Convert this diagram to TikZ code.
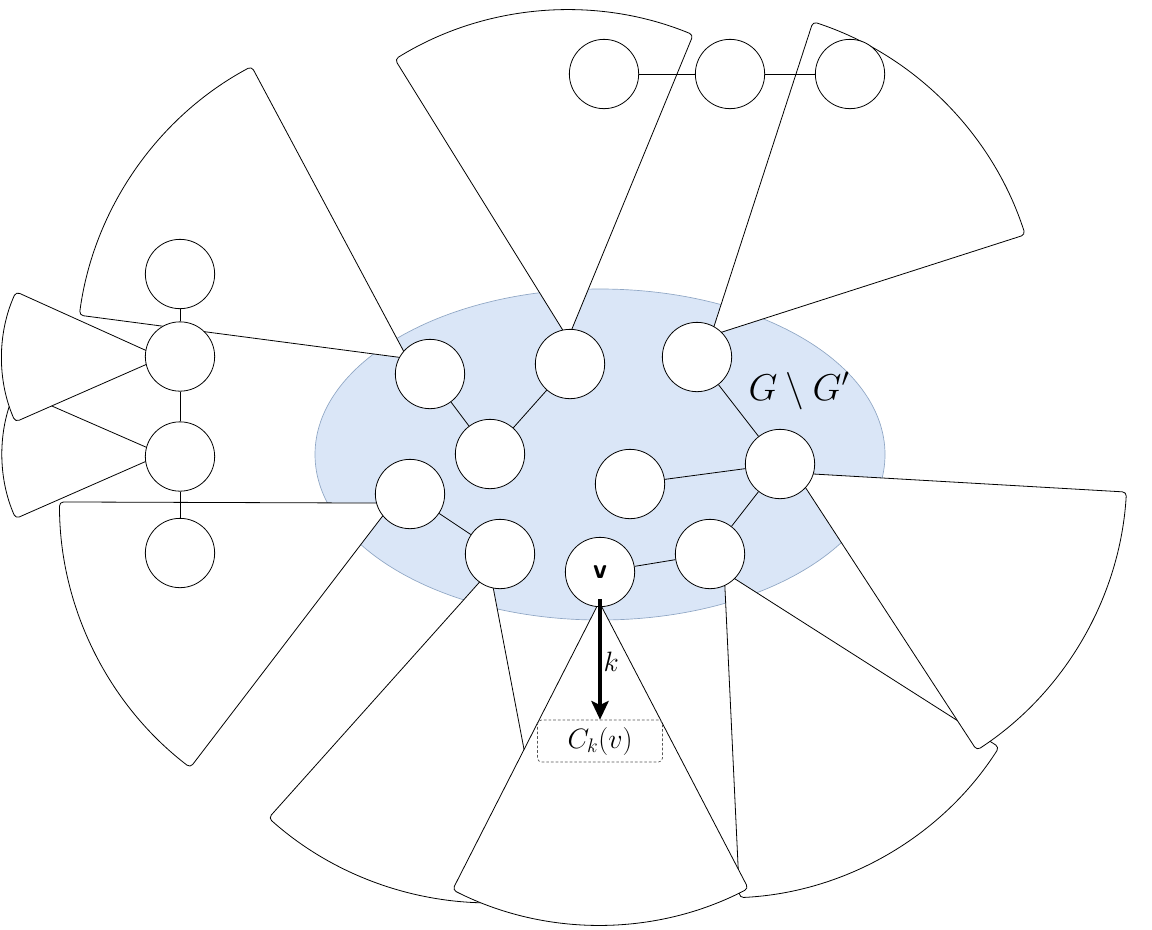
\RequirePackage{fix-cm}
\documentclass[tikz,border=0pt]{standalone}
\usepackage{fontspec}
\usetikzlibrary{arrows.meta}
\definecolor{regionfill}{RGB}{218,230,247}
\definecolor{regionline}{RGB}{143,166,196}
\definecolor{boxline}{RGB}{85,85,85}
\newcommand\drawfan[5]{%
  \coordinate (#1) at #2;
  \draw[sect] (#1) -- ++(#3:#5) arc[start angle=#3, end angle=#4, radius=#5] -- cycle;}
\begin{document}
\begin{tikzpicture}[x=0.75pt,y=0.75pt,
  sect/.style={draw=black, fill=white, line width=0.6pt, rounded corners=3pt, line join=round},
  vtx/.style={circle, draw=black, fill=white, line width=0.6pt, minimum size=52pt, inner sep=0pt},
  link/.style={draw=black, line width=0.6pt},
  region/.style={fill=regionfill, draw=regionline, line width=0.5pt},
  karrow/.style={line width=2.6pt, -{Stealth[length=14pt,width=13pt,inset=3pt]}},
  ckbox/.style={draw=boxline, line width=0.5pt, dash pattern=on 2pt off 1.5pt, rounded corners=3pt,
                minimum width=93.75pt, minimum height=31.5pt, inner sep=0pt}]
\useasboundingbox (0,0) rectangle (1152,-929);

% region G \ G'
\draw[region] (600,-454.5) ellipse [x radius=285, y radius=165.5];

% fans (subtrees)
\drawfan{pL2}{(162.2,-454.2)}{156.4}{203.7}{160}
\drawfan{pL1}{(161.8,-357.6)}{155.7}{203.7}{160}
\drawfan{pA}{(407.5,-358.4)}{118.1}{172.5}{331}
\drawfan{pB}{(568,-338.5)}{67.6}{121.8}{328.5}
\drawfan{pC}{(711,-335.6)}{17.8}{72.0}{330}
\drawfan{pI}{(724.2,-572)}{-87.3}{-32.5}{326}
\drawfan{pF}{(796,-473)}{-56.9}{-3.3}{331}
\drawfan{pH}{(489.9,-570.5)}{-131.8}{-79.2}{332}
\drawfan{pV}{(599.2,-602)}{-117.0}{-62.5}{323}
\drawfan{pG}{(392.5,-503.1)}{179.8}{232.6}{333}

% vertices
\node[vtx] (A) at (430,-374) {};
\node[vtx] (B) at (570,-364) {};
\node[vtx] (C) at (697,-357) {};
\node[vtx] (D) at (490,-454) {};
\node[vtx] (E) at (630,-484) {};
\node[vtx] (F) at (780,-464) {};
\node[vtx] (G) at (410,-494) {};
\node[vtx] (H) at (500,-554) {};
\node[vtx, font=\sffamily\bfseries\fontsize{21}{24}\selectfont] (v) at (600,-572) {v};
\node[vtx] (I) at (710,-554) {};
\node[vtx] (l1) at (180,-274) {};
\node[vtx] (l2) at (180,-356.5) {};
\node[vtx] (l3) at (180,-456.5) {};
\node[vtx] (l4) at (180,-553) {};
\node[vtx] (t1) at (604,-74) {};
\node[vtx] (t2) at (730,-74) {};
\node[vtx] (t3) at (850,-74) {};

% edges
\draw[link] (A) -- (D);
\draw[link] (B) -- (D);
\draw[link] (C) -- (F);
\draw[link] (E) -- (F);
\draw[link] (F) -- (I);
\draw[link] (G) -- (H);
\draw[link] (v) -- (I);
\draw[link] (l1) -- (l2);
\draw[link] (l2) -- (l3);
\draw[link] (l3) -- (l4);
\draw[link] (t1) -- (t2);
\draw[link] (t2) -- (t3);

% labels
\node (lab) at (799,-391) {\fontsize{28}{32}\selectfont $G\setminus G'$};
\node[ckbox] (ck) at (600,-741) {\fontsize{21}{24}\selectfont $C_k(v)$};
\draw[karrow] ([yshift=6pt]v.south) -- (ck.north)
  node[pos=0.52, right=0.5pt, inner sep=1pt, font=\fontsize{21}{24}\selectfont] (klab) {$k$};
\end{tikzpicture}
\end{document}
